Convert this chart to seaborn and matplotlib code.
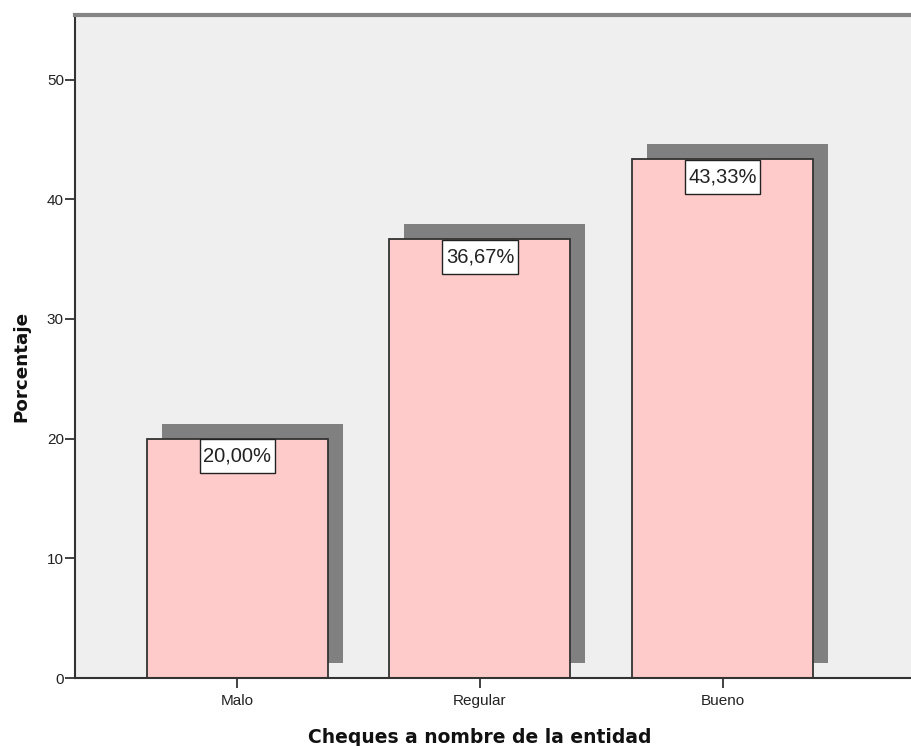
import matplotlib
matplotlib.use("Agg")
import matplotlib.pyplot as plt
import matplotlib.transforms as mtransforms
from matplotlib.path import Path
import seaborn as sns
import pandas as pd

categories = ["Malo", "Regular", "Bueno"]
percentages = [20.00, 36.67, 43.33]
y_ticks = [0, 10, 20, 30, 40, 50]

df = pd.DataFrame({"categoria": categories, "porcentaje": percentages})

sns.set_style("white")
plt.rcParams["font.family"] = ["Liberation Sans", "DejaVu Sans"]

fig = plt.figure(figsize=(9.12, 7.46), dpi=100)
ax = fig.add_axes([75 / 912, 68 / 746, 1 - 75 / 912, (678 - 15) / 746])
ax.set_facecolor("#efefef")

# drop shadows: same bars, shifted up and to the right
sns.barplot(data=df, x="categoria", y="porcentaje", order=categories,
            color="#808080", saturation=1, width=0.745, linewidth=0,
            ax=ax, zorder=1)
shift = mtransforms.ScaledTranslation(15 / 100, 15 / 100, fig.dpi_scale_trans)
for p in list(ax.patches):
    p.set_transform(ax.transData + shift)
    p.set_edgecolor("none")

sns.barplot(data=df, x="categoria", y="porcentaje", order=categories,
            color="#ffcaca", saturation=1, width=0.745, edgecolor="#333333",
            linewidth=1.3, ax=ax, zorder=2)

PAD_X, PAD_Y = 0.17, 0.37


def label_box(x0, y0, width, height, mutation_size):
    # rectangle with narrow side padding and taller top/bottom padding
    px = PAD_X * mutation_size
    py = PAD_Y * mutation_size
    x1, y1 = x0 + width + px, y0 + height + py
    x0, y0 = x0 - px, y0 - py
    return Path([(x0, y0), (x1, y0), (x1, y1), (x0, y1), (x0, y0)], closed=True)


label_size = 14.5
for i, v in enumerate(percentages):
    label = f"{v:.2f}%".replace(".", ",")
    ax.annotate(label, xy=(i, v), xytext=(0, -PAD_Y * label_size - 0.5),
                textcoords="offset points", ha="center", va="top",
                fontsize=label_size, color="#222222", zorder=4,
                bbox=dict(boxstyle=label_box, fc="white", ec="#222222", lw=1.0))

ax.set_xlim(-0.668, 2.78)
ax.set_ylim(0, 55.4)
ax.set_yticks(y_ticks)
ax.set_yticklabels([str(t) for t in y_ticks])

ax.tick_params(axis="both", which="both", direction="out", length=7.5, width=1.3,
               color="#333333", labelsize=11, labelcolor="#222222", pad=0.5,
               left=True, bottom=True)
ax.tick_params(axis="x", pad=4)

for side in ("left", "bottom"):
    ax.spines[side].set_color("#333333")
    ax.spines[side].set_linewidth(1.5)
ax.spines["top"].set_color("#858585")
ax.spines["top"].set_linewidth(3)
ax.spines["right"].set_visible(False)

ax.set_xlabel("Cheques a nombre de la entidad", family="DejaVu Sans",
              fontweight="bold", fontsize=13.5, color="#111111")
ax.set_ylabel("Porcentaje", family="DejaVu Sans", fontweight="bold",
              fontsize=13.2, color="#111111")
ax.xaxis.set_label_coords(0.484, -0.089, transform=ax.transAxes)
ax.yaxis.set_label_coords(-0.064, 0.47, transform=ax.transAxes)
ax.xaxis.label.set_va("center")
ax.yaxis.label.set_va("center")

fig.savefig("out.png", dpi=100)
